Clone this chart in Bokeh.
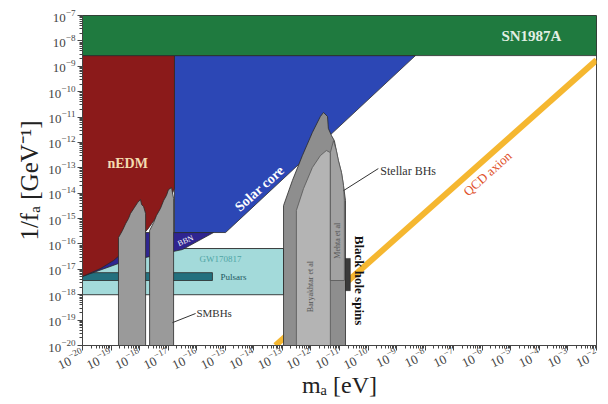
from bokeh.plotting import figure
from bokeh.models import FixedTicker, Label
from bokeh.embed import file_html
from bokeh.resources import INLINE

# ---- data (log10 values) ----
x_decades = list(range(-20, -1))      # 10^-20 ... 10^-2 eV
y_decades = list(range(-20, -6))      # 10^-20 ... 10^-7 GeV^-1

sn_x = [-20, -2, -2, -20]
sn_y = [-7, -7, -8.58, -8.58]

nedm_x = [-20, -16.78, -16.78, -16.85, -17.27, -17.72, -18.21, -18.67, -18.91, -19.37, -20]
nedm_y = [-8.58, -8.58, -13.82, -14.01, -14.72, -15.43, -15.98, -16.42, -16.65, -16.97, -17.28]

solar_x = [-16.78, -8.34, -14.99, -16.78]
solar_y = [-8.58, -8.58, -15.55, -15.55]

bbn_x = [-20, -15.41, -16.5, -17.62, -18.74, -20]
bbn_y = [-15.55, -15.55, -16.22, -16.49, -16.77, -17.28]

gw_x = [-20, -12.96, -12.96, -20]
gw_y = [-16.18, -16.18, -18.0, -18.0]

pulsar_x = [-20, -15.45, -15.45, -20]
pulsar_y = [-17.13, -17.13, -17.44, -17.44]

smbh1_x = [-18.74, -18.74, -18.6, -18.49, -18.39, -18.32, -18.18, -18.07, -17.97, -17.93, -17.86, -17.79, -17.79]
smbh1_y = [-20, -15.75, -15.47, -15.2, -15.0, -14.8, -14.56, -14.37, -14.25, -14.45, -14.53, -14.8, -20]

smbh2_x = [-17.65, -17.65, -17.51, -17.41, -17.27, -17.16, -17.06, -16.99, -16.88, -16.85, -16.81, -16.81]
smbh2_y = [-20, -15.47, -15.16, -14.88, -14.6, -14.29, -14.09, -13.86, -13.78, -13.97, -14.2, -20]

stellar_x = [-12.96, -12.96, -12.65, -12.30, -11.95, -11.67, -11.56, -11.42, -11.39, -11.28,
             -11.18, -11.11, -11.04, -10.93, -10.86, -10.79, -10.79]
stellar_y = [-20, -14.49, -13.5, -12.52, -11.61, -10.98, -10.82, -10.98, -11.45, -11.73,
             -11.93, -12.32, -12.71, -13.19, -13.7, -14.29, -20]

bary_x = [-12.51, -12.51, -12.26, -11.95, -11.67, -11.46, -11.32, -11.32]
bary_y = [-20, -14.68, -13.82, -12.99, -12.52, -12.32, -12.4, -20]

mehta_x = [-11.32, -11.21, -11.11, -11.04, -10.93, -10.86, -10.83, -10.83, -11.32]
mehta_y = [-12.4, -11.93, -12.32, -12.71, -13.19, -13.7, -14.29, -17.44, -17.44]

spins_x = [-10.79, -10.62, -10.62, -10.79]
spins_y = [-16.57, -16.57, -17.84, -17.84]

qcd_x = [-13.244, -2]
qcd_y = [-20, -8.757]

smbh_lead_x = [-16.85, -16.04]
smbh_lead_y = [-19.1, -18.74]
stellar_lead_x = [-10.86, -9.64]
stellar_lead_y = [-13.9, -13.03]


def P(v):
    return [10.0 ** e for e in v]


p = figure(width=600, height=404, x_axis_type="log", y_axis_type="log",
           x_range=(1e-20, 1e-2), y_range=(1e-20, 1e-7),
           output_backend="svg", toolbar_location=None,
           min_border_left=82, min_border_right=4, min_border_top=15, min_border_bottom=59)
p.grid.visible = False
p.outline_line_color = "#444444"
p.outline_line_width = 1
p.background_fill_color = "white"

edge = "#2a2a2a"
p.patch(P(gw_x), P(gw_y), fill_color="#a3dada", line_color=edge, line_width=0.9)
p.patch(P(pulsar_x), P(pulsar_y), fill_color="#23707e", line_color=edge, line_width=0.8)
p.patch(P(bbn_x), P(bbn_y), fill_color="#2f2590", line_color=edge, line_width=0.8)
p.patch(P(solar_x), P(solar_y), fill_color="#2c47b5", line_color=edge, line_width=0.8)
p.patch(P(nedm_x), P(nedm_y), fill_color="#8b1a1a", line_color=edge, line_width=0.8)
p.patch(P(sn_x), P(sn_y), fill_color="#1f7a3f", line_color=edge, line_width=0.8)
p.line(P(qcd_x), P(qcd_y), line_width=6, line_color="#f5b730", line_cap="butt")
p.patch(P(smbh1_x), P(smbh1_y), fill_color="#9a9a9a", line_color=edge, line_width=0.8)
p.patch(P(smbh2_x), P(smbh2_y), fill_color="#9a9a9a", line_color=edge, line_width=0.8)
p.patch(P(stellar_x), P(stellar_y), fill_color="#8e8e8e", line_color=edge, line_width=0.8)
p.patch(P(bary_x), P(bary_y), fill_color="#b4b4b4", line_color="#555555", line_width=0.8)
p.patch(P(mehta_x), P(mehta_y), fill_color="#a2a2a2", line_color="#555555", line_width=0.8)
p.patch(P(spins_x), P(spins_y), fill_color="#3a3a3a", line_color="#222222", line_width=0.5)
p.line(P(smbh_lead_x), P(smbh_lead_y), line_color="#333333", line_width=1)
p.line(P(stellar_lead_x), P(stellar_lead_y), line_color="#333333", line_width=1)

F = "Liberation Serif"


def lab(x, y, text, color, size, angle=0.0, style="normal", align="center", baseline="middle"):
    p.add_layout(Label(x=10.0 ** x, y=10.0 ** y, text=text, text_color=color,
                       text_font=F, text_font_size=f"{size}px", text_font_style=style,
                       angle=angle, text_align=align, text_baseline=baseline))


lab(-4.28, -7.79, "SN1987A", "#e3efe3", 15, style="bold")
lab(-18.42, -12.83, "nEDM", "#f3dcb0", 14, style="bold")
lab(-13.8, -13.82, "Solar core", "white", 14, angle=0.73, style="bold")
lab(-16.39, -15.87, "BBN", "white", 8, angle=0.42)
lab(-15.17, -16.61, "GW170817", "#4fa5a5", 9)
lab(-14.71, -17.32, "Pulsars", "#1c5660", 9)
lab(-16.01, -18.7, "SMBHs", "#333333", 11, align="left")
lab(-9.57, -13.11, "Stellar BHs", "#333333", 12, align="left")
lab(-10.30, -17.44, "Black hole spins", "#111111", 13, angle=-1.5708, style="bold")
lab(-12.02, -17.68, "Baryakhtar et al", "#555555", 8, angle=1.5708)
lab(-11.07, -15.87, "Mehta et al", "#555555", 8, angle=1.5708)
lab(-5.82, -13.23, "QCD axion", "#e0502a", 13, angle=0.726)

p.xaxis.ticker = FixedTicker(ticks=P(x_decades),
                             minor_ticks=[m * 10.0 ** e for e in x_decades[:-1] for m in range(2, 10)])
p.yaxis.ticker = FixedTicker(ticks=P(y_decades),
                             minor_ticks=[m * 10.0 ** e for e in y_decades[:-1] for m in range(2, 10)])

for ax in (p.xaxis[0], p.yaxis[0]):
    ax.major_label_text_font = F
    ax.major_label_text_font_size = "13px"
    ax.major_label_text_color = "#444444"
    ax.major_label_standoff = 2
    ax.major_tick_out = 5
    ax.major_tick_in = 0
    ax.minor_tick_out = 3
    ax.minor_tick_in = 0
    ax.axis_line_color = "#444444"
    ax.major_tick_line_color = "#444444"
    ax.minor_tick_line_color = "#444444"
    ax.axis_label_text_font = F
    ax.axis_label_text_font_style = "normal"
    ax.axis_label_text_color = "#222222"

p.xaxis.axis_label = "m\u2090 [eV]"
p.yaxis.axis_label = "1/f\u2090 [GeV\u207b\u00b9]"
p.xaxis.axis_label_text_font_size = "24px"
p.yaxis.axis_label_text_font_size = "25px"
p.xaxis.axis_label_standoff = -6
p.yaxis.axis_label_standoff = 2
p.xaxis.major_label_orientation = 0.45

open("out.html", "w").write(file_html(p, INLINE))
